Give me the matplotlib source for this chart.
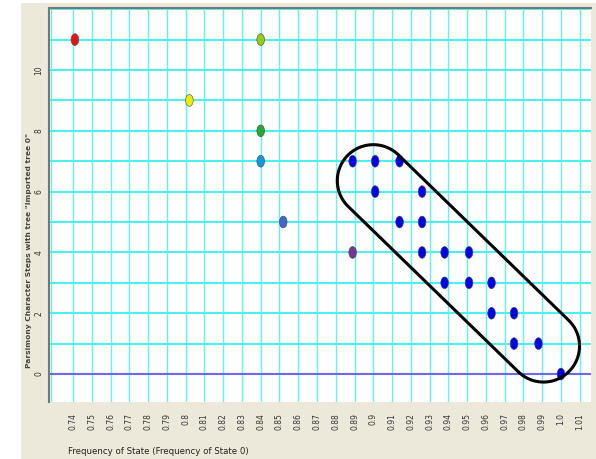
import numpy as np
import matplotlib
matplotlib.use("Agg")
import matplotlib.pyplot as plt
from matplotlib.path import Path
from matplotlib.transforms import Affine2D
from matplotlib.patches import Rectangle

# Data: frequency of state 0 vs parsimony steps
x_vals = [0.741, 0.840, 0.802, 0.840, 0.840, 0.852, 0.889,
          0.889, 0.901, 0.914, 0.901, 0.926, 0.914, 0.926, 0.926, 0.938, 0.951,
          0.938, 0.951, 0.963, 0.963, 0.975, 0.975, 0.988, 1.000]
y_vals = [11, 11, 9, 8, 7, 5, 4,
          7, 7, 7, 6, 6, 5, 5, 4, 4, 4,
          3, 3, 3, 2, 2, 1, 1, 0]
colors = ["#ee1111", "#99cc11", "#eeee00", "#22aa33", "#1199dd", "#4466cc", "#773399"] + ["#0000ee"] * 18

x_ticks = [round(0.74 + 0.01 * i, 2) for i in range(28)]
x_tick_labels = ["0.74", "0.75", "0.76", "0.77", "0.78", "0.79", "0.8", "0.81", "0.82",
                 "0.83", "0.84", "0.85", "0.86", "0.87", "0.88", "0.89", "0.9", "0.91",
                 "0.92", "0.93", "0.94", "0.95", "0.96", "0.97", "0.98", "0.99", "1.0", "1.01"]
y_ticks = [0, 2, 4, 6, 8, 10]

W, H = 596, 459
fig = plt.figure(figsize=(W / 100, H / 100), dpi=100)
fig.patch.set_facecolor("white")
fig.patches.append(Rectangle((21 / W, 0), 1 - 21 / W, 1 - 3 / H, transform=fig.transFigure,
                             facecolor="#ece8da", edgecolor="none", zorder=-1))

ax = fig.add_axes([49 / W, 1 - 402 / H, (591 - 49) / W, (402 - 8) / H])
ax.set_facecolor("white")
ax.set_xlim(0.7272, 1.0160)
ax.set_ylim(-0.92, 12.04)

# grid
for xv in x_ticks:
    ax.axvline(xv, color="#5cf6f6", lw=1.0, zorder=1)
ax.axvline(0.7285, color="#5cf6f6", lw=1.0, zorder=1)
for yv in range(1, 13):
    ax.axhline(yv, color="#44f2f2", lw=1.4, zorder=1)
ax.axhline(0, color="#6a6af0", lw=1.5, zorder=2)

# ellipse-shaped markers
ell = Path.unit_circle().transformed(Affine2D().scale(0.65, 1.0))
ax.scatter(x_vals, y_vals, s=72, marker=ell, c=colors, edgecolors="#444444",
           linewidths=0.4, zorder=4)

ax.set_xticks(x_ticks)
ax.set_xticklabels(x_tick_labels, rotation=90, fontsize=5.5, color="#333333")
ax.set_yticks(y_ticks)
ax.set_yticklabels([str(v) for v in y_ticks], rotation=90, fontsize=5.5, va="center",
                   color="#333333")
ax.tick_params(length=0, pad=8)
ax.tick_params(axis="y", pad=4)

for side in ["right", "bottom"]:
    ax.spines[side].set_visible(False)
for side in ["left", "top"]:
    ax.spines[side].set_color("#777777")
    ax.spines[side].set_linewidth(1.5)

fig.text(29 / W, 1 - 251 / H, 'Parsimony Character Steps with tree "Imported tree 0"',
         rotation=90, ha="center", va="center", fontsize=5.4, fontweight="bold", color="#444444")
fig.text(68 / W, 1 - 452 / H, "Frequency of State (Frequency of State 0)",
         ha="left", va="center", fontsize=6.2, family=["Liberation Sans Narrow", "DejaVu Sans"],
         color="#222222")

# stadium-shaped annotation around the blue cluster, built in pixel space
fig.canvas.draw()
p1 = ax.transData.transform((0.900, 6.36))
p2 = ax.transData.transform((0.9907, 0.92))
r = 36 * fig.dpi / 100
d = p2 - p1
phi = np.arctan2(d[1], d[0])
a2 = np.linspace(phi - np.pi / 2, phi + np.pi / 2, 60)
a1 = np.linspace(phi + np.pi / 2, phi + 3 * np.pi / 2, 60)
pts = np.vstack([
    np.column_stack([p2[0] + r * np.cos(a2), p2[1] + r * np.sin(a2)]),
    np.column_stack([p1[0] + r * np.cos(a1), p1[1] + r * np.sin(a1)]),
])
pts = np.vstack([pts, pts[:1]])
pts = ax.transData.inverted().transform(pts)
ax.plot(pts[:, 0], pts[:, 1], color="black", lw=2.2, zorder=5, solid_capstyle="round")

fig.savefig("out.png", dpi=100)
